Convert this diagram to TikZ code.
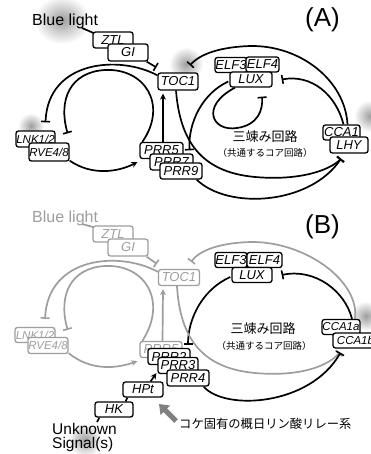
\documentclass[tikz,border=0pt]{standalone}
\usepackage{fontspec}
\setmainfont{Liberation Sans}
\newfontfamily\jpfont{Noto Sans CJK JP}
\usetikzlibrary{arrows.meta,fadings,calc}
\definecolor{faded}{gray}{0.62}
\tikzfading[name=haze, inner color=transparent!62, outer color=transparent!100]
\pgfdeclarelayer{back}
\pgfdeclarelayer{wires}
\pgfsetlayers{back,wires,main}
\begin{document}
\begin{tikzpicture}[x=1pt,y=-1pt,
  gene/.style={draw=black, fill=white, rounded corners=2.5pt, line width=1.3pt,
    inner sep=0pt, minimum height=15pt, text=black,
    font=\fontsize{13}{13}\selectfont\itshape},
  small/.style={font=\fontsize{11.5}{11.5}\selectfont\itshape},
  ggene/.style={gene, draw=faded, text=faded},
  wire/.style={line width=1.7pt, draw=black},
  gwire/.style={wire, draw=faded},
  inh/.style={-{Bar[width=9pt,line width=1.6pt]}},
  act/.style={-{Stealth[length=6pt,width=6pt]}},
  label/.style={inner sep=0pt, font=\fontsize{16}{16}\selectfont},
  panel/.style={inner sep=0pt, font=\fontsize{26}{26}\selectfont},
  jbig/.style={inner sep=0pt, font=\jpfont\fontsize{13}{13}\selectfont},
  jsmall/.style={inner sep=0pt, font=\jpfont\fontsize{9.5}{9.5}\selectfont},
  blob/.style={fill=black, path fading=haze}]

\useasboundingbox (0,0) rectangle (370,454);
\begin{pgfonlayer}{back}
  \fill[white] (0,0) rectangle (370,454);
  % soft shadows
  \fill[blob] (62,20) ellipse (28pt and 24pt);
  \fill[blob] (186,64) circle (17pt);
  \fill[blob] (31,126) circle (13pt);
  \fill[blob] (370,116) circle (16pt);
  \fill[blob] (85,440) circle (17pt);
  \fill[blob] (366,316) circle (15pt);
\end{pgfonlayer}

% ---------------- panel A ----------------
\node[label, anchor=base west] (blueA) at (32,26) {Blue light};
\node[panel, anchor=base west] (tagA) at (305,27) {(A)};
\coordinate (blA) at (82,28);

\node[gene, minimum width=40pt, minimum height=16pt] (ztlA) at (113,40) {ZTL};
\node[gene, minimum width=40pt, minimum height=17pt] (giA) at (128,52.5) {GI};
\node[gene, minimum width=40pt, minimum height=17pt] (tocA) at (178,81.5) {TOC1};
\node[gene, minimum width=32pt] (elf3A) at (231,65) {ELF3};
\node[gene, minimum width=33pt] (elf4A) at (262.5,64.5) {ELF4};
\node[gene, minimum width=42pt] (luxA) at (251,79.5) {LUX};
\node[gene, small, minimum width=39pt, minimum height=16pt] (lnkA) at (35.5,139) {LNK1/2};
\node[gene, small, minimum width=40pt, minimum height=18pt] (rveA) at (49,152) {RVE4/8};
\node[gene, minimum width=43pt, minimum height=16pt] (prr5A) at (161.5,150.5) {PRR5};
\node[gene, minimum width=43pt, minimum height=16pt] (prr7A) at (171.5,162) {PRR7};
\node[gene, minimum width=42pt, minimum height=16pt] (prr9A) at (181,171) {PRR9};
\node[gene, minimum width=37pt] (ccaA) at (341.5,132.5) {CCA1};
\node[gene, minimum width=38pt, minimum height=16pt] (lhyA) at (349,145) {LHY};

\node[jbig] (coreA) at (265,136.5) {三竦み回路};
\node[jsmall] (noteA) at (265,153) {（共通するコア回路）};

\begin{pgfonlayer}{wires}
  \draw[wire] (blA) -- ([shift={(2,2)}]ztlA.north west);
  \draw[wire, inh] ([shift={(-2,0)}]giA.south east) -- ([shift={(-1,-5)}]tocA.north west);
  % CCA1/LHY -| TOC1 (outer arc)
  \draw[wire, inh] ([xshift=6pt]ccaA.north) .. controls (345,80) and (300,45) .. (250,46)
     .. controls (220,47) and (200,54) .. ([shift={(12,-7)}]tocA.north);
  % CCA1/LHY -| LUX
  \draw[wire, inh] ([xshift=2pt]ccaA.north) .. controls (336,95) and (312,74) .. ([shift={(9,0)}]luxA.east);
  % loop under the evening complex
  \draw[wire, inh] ([shift={(-16,0)}]luxA.south) .. controls (200,106) and (212,132) .. (237,128)
     .. controls (258,125) and (263,110) .. ([shift={(11,9)}]luxA.south);
  % LUX -| PRRs
  \draw[wire, inh] ([shift={(-1,2)}]luxA.west) .. controls (203,93) and (188,122) .. ([shift={(18,-3)}]prr7A.north);
  % TOC1 -| CCA1/LHY
  \draw[wire, inh] ([xshift=-2pt]tocA.south) .. controls (180,140) and (200,172) .. (255,177)
     .. controls (300,181) and (330,170) .. ([shift={(-8,5)}]lhyA.south);
  % PRRs -| CCA1/LHY
  \draw[wire, inh] ([shift={(-6,0)}]prr9A.south east) .. controls (228,210) and (310,205) .. ([shift={(-8,5)}]lhyA.south);
  % PRR5 -> TOC1
  \draw[wire, act] ([xshift=1.5pt]prr5A.north) -- ([shift={(-15,3)}]tocA.south);
  % LNK/RVE -> PRR5
  \draw[wire, act] ([shift={(0,-1)}]rveA.south east) .. controls (92,176) and (118,172) .. ([shift={(-2,3)}]prr5A.south west);
  % TOC1 -| LNK
  \draw[wire, inh] ([shift={(0,3)}]tocA.north west) .. controls (120,55) and (48,60) .. ([shift={(10,-8)}]lnkA.north);
  % PRR5 -| RVE
  \draw[wire, inh] ([xshift=3pt]prr5A.north west) .. controls (168,105) and (145,68) .. (105,70)
     .. controls (70,72) and (58,100) .. ([shift={(12,3)}]lnkA.north east);
\end{pgfonlayer}

% ---------------- panel B ----------------
\begin{scope}[shift={(0,196)}]
\node[label, anchor=base west, text=faded] (blueB) at (32,26) {Blue light};
\node[panel, anchor=base west] (tagB) at (305,37) {(B)};
\coordinate (blB) at (82,28);

\node[ggene, minimum width=40pt, minimum height=16pt] (ztlB) at (113,38) {ZTL};
\node[ggene, minimum width=40pt, minimum height=17pt] (giB) at (128,51.5) {GI};
\node[ggene, minimum width=41pt, minimum height=16pt] (tocB) at (179,81.5) {TOC1};
\node[gene, minimum width=32pt] (elf3B) at (231,64) {ELF3};
\node[gene, minimum width=35pt] (elf4B) at (264.5,64) {ELF4};
\node[gene, minimum width=40pt] (luxB) at (252,79) {LUX};
\node[ggene, small, minimum width=40pt, minimum height=15pt] (lnkB) at (35,139) {LNK1/2};
\node[ggene, small, minimum width=40pt, minimum height=16pt] (rveB) at (48,149.5) {RVE4/8};
\node[ggene, minimum width=42pt, minimum height=16pt] (prr5B) at (161,153.5) {PRR5};
\node[gene, minimum width=42pt, minimum height=16pt] (prr2B) at (169,160.5) {PRR2};
\node[gene, minimum width=40pt, minimum height=16pt] (prr3B) at (178,169.5) {PRR3};
\node[gene, minimum width=42pt, minimum height=16pt] (prr4B) at (188,182) {PRR4};
\node[gene, small, minimum width=38pt] (ccaaB) at (341,131) {CCA1a};
\node[gene, small, minimum width=45pt] (ccabB) at (355.5,144.5) {CCA1b};

\node[jbig] (coreB) at (263,133) {三竦み回路};
\node[jsmall] (noteB) at (264,149.5) {（共通するコア回路）};

\begin{pgfonlayer}{wires}
  \draw[gwire] (blB) -- ([shift={(2,2)}]ztlB.north west);
  \draw[gwire, inh] ([shift={(-2,0)}]giB.south east) -- ([shift={(-1,-5)}]tocB.north west);
  \draw[gwire, inh] ([xshift=14pt]ccaaB.north) .. controls (360,85) and (305,45) .. (250,46)
     .. controls (220,47) and (200,54) .. ([shift={(12,-7)}]tocB.north);
  \draw[wire, inh] ([xshift=11pt]ccaaB.north) .. controls (345,95) and (315,72) .. ([shift={(9,0)}]luxB.east);
  \draw[wire, inh] ([shift={(-1,2)}]luxB.west) .. controls (203,93) and (188,122) .. ([shift={(19,-3)}]prr2B.north);
  \draw[gwire, inh] ([xshift=-2pt]tocB.south) .. controls (180,140) and (200,172) .. (255,177)
     .. controls (300,181) and (328,170) .. ([shift={(-16,4)}]ccabB.south);
  \draw[wire, inh] ([shift={(-6,0)}]prr4B.south east) .. controls (225,215) and (310,210) .. ([shift={(-15,4)}]ccabB.south);
  \draw[gwire, act] ([xshift=1.5pt]prr5B.north) -- ([shift={(-16,3)}]tocB.south);
  \draw[gwire, act] ([shift={(0,-1)}]rveB.south east) .. controls (92,176) and (118,172) .. ([shift={(-2,3)}]prr5B.south west);
  \draw[gwire, inh] ([shift={(0,3)}]tocB.north west) .. controls (120,55) and (48,60) .. ([shift={(10,-8)}]lnkB.north);
  \draw[gwire, inh] ([xshift=3pt]prr5B.north west) .. controls (168,105) and (145,68) .. (105,70)
     .. controls (70,72) and (58,100) .. ([shift={(12,3)}]lnkB.north east);
\end{pgfonlayer}
\end{scope}

% moss-specific phosphorelay
\node[gene, minimum width=40pt, minimum height=15pt] (hpt) at (143,389.5) {HPt};
\node[gene, minimum width=38pt, minimum height=15pt] (hk) at (114,409.5) {HK};
\node[label, anchor=base west, font=\fontsize{15.5}{15.5}\selectfont] (unk) at (52,434.5) {Unknown};
\node[label, anchor=base west, font=\fontsize{15.5}{15.5}\selectfont] (sig) at (52,448.5) {Signal(s)};
\node[inner sep=0pt, anchor=west, font=\jpfont\fontsize{12.3}{12.3}\selectfont] (koke) at (179,424) {コケ固有の概日リン酸リレー系};
\coordinate (usig) at (97,422);
\coordinate (ptail) at (176,421);
\coordinate (phead) at (159,404);
\begin{pgfonlayer}{wires}
  \draw[wire] (usig) -- ([xshift=5pt]hk.south west);
  \draw[wire] ([xshift=-8pt]hk.north east) -- ([xshift=5pt]hpt.south west);
  \draw[wire, act] ([xshift=-13pt]hpt.north east) -- ([shift={(-1,-1)}]prr3B.south west);
\end{pgfonlayer}
\draw[line width=5pt, draw=black!50, -{Triangle[width=13pt,length=9pt]}] (ptail) -- (phead);
\end{tikzpicture}
\end{document}
